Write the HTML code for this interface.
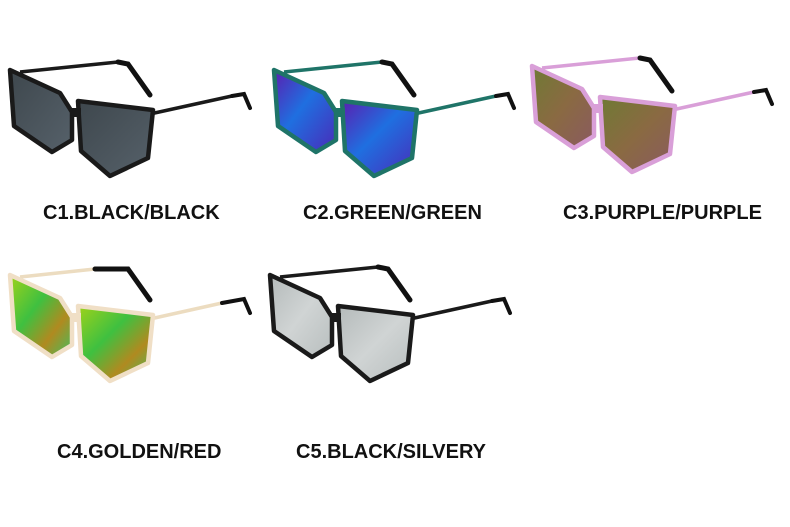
<!DOCTYPE html>
<html><head><style>
body{margin:0;background:#fff;width:790px;height:527px;overflow:hidden;position:relative;font-family:"Liberation Sans",sans-serif}
.t{position:absolute;font-weight:bold;font-size:20px;color:#111;white-space:nowrap}
</style></head><body>
<svg width="790" height="527" style="position:absolute;left:0;top:0">
<defs>
<linearGradient id="g1" x1="0" y1="0" x2="1" y2="1"><stop offset="0" stop-color="#3e474d"/><stop offset="1" stop-color="#56616a"/></linearGradient>
<linearGradient id="g2" x1="0" y1="0" x2="1" y2="1"><stop offset="0" stop-color="#5a1fb0"/><stop offset=".45" stop-color="#1f6fe0"/><stop offset="1" stop-color="#4a2ab8"/></linearGradient>
<linearGradient id="g3" x1="0" y1="0" x2="1" y2="1"><stop offset="0" stop-color="#6f7a34"/><stop offset=".5" stop-color="#8a6a42"/><stop offset="1" stop-color="#8a5a60"/></linearGradient>
<linearGradient id="g4" x1="0" y1="0" x2="1" y2="1"><stop offset="0" stop-color="#9fd21a"/><stop offset=".4" stop-color="#3fc040"/><stop offset=".7" stop-color="#b08a20"/><stop offset="1" stop-color="#3fc060"/></linearGradient>
<linearGradient id="g5" x1="0" y1="0" x2="1" y2="1"><stop offset="0" stop-color="#b4baba"/><stop offset=".5" stop-color="#d0d4d4"/><stop offset="1" stop-color="#b8bebe"/></linearGradient>
</defs>
<g transform="translate(0,0)">
 <polyline points="20,72 118,62" stroke="#1a1a1a" stroke-width="3.5" fill="none"/><polyline points="118,62 128,64 150,95" stroke="#111" stroke-width="5" fill="none" stroke-linecap="round"/>
 <polyline points="150,114 232,96" stroke="#1a1a1a" stroke-width="3.5" fill="none"/><polyline points="232,96 244,94 250,108" stroke="#111" stroke-width="4" fill="none" stroke-linecap="round"/>
 <polygon points="10,70 60,93 72,112 72,140 52,152 14,126" fill="url(#g1)" stroke="#1a1a1a" stroke-width="4.5" stroke-linejoin="round"/>
 <polygon points="78,101 153,110 148,158 110,176 81,151 79,118" fill="url(#g1)" stroke="#1a1a1a" stroke-width="4.5" stroke-linejoin="round"/>
 <rect x="70" y="108" width="11" height="9" fill="#1a1a1a"/>
</g>
<g transform="translate(264,0)">
 <polyline points="20,72 118,62" stroke="#1f7468" stroke-width="3.5" fill="none"/><polyline points="118,62 128,64 150,95" stroke="#111" stroke-width="5" fill="none" stroke-linecap="round"/>
 <polyline points="150,114 232,96" stroke="#1f7468" stroke-width="3.5" fill="none"/><polyline points="232,96 244,94 250,108" stroke="#111" stroke-width="4" fill="none" stroke-linecap="round"/>
 <polygon points="10,70 60,93 72,112 72,140 52,152 14,126" fill="url(#g2)" stroke="#1f7468" stroke-width="4.5" stroke-linejoin="round"/>
 <polygon points="78,101 153,110 148,158 110,176 81,151 79,118" fill="url(#g2)" stroke="#1f7468" stroke-width="4.5" stroke-linejoin="round"/>
 <rect x="70" y="108" width="11" height="9" fill="#1f7468"/>
</g>
<g transform="translate(522,-4)">
 <polyline points="20,72 118,62" stroke="#d99fd8" stroke-width="3.5" fill="none"/><polyline points="118,62 128,64 150,95" stroke="#111" stroke-width="5" fill="none" stroke-linecap="round"/>
 <polyline points="150,114 232,96" stroke="#d99fd8" stroke-width="3.5" fill="none"/><polyline points="232,96 244,94 250,108" stroke="#111" stroke-width="4" fill="none" stroke-linecap="round"/>
 <polygon points="10,70 60,93 72,112 72,140 52,152 14,126" fill="url(#g3)" stroke="#d99fd8" stroke-width="4.5" stroke-linejoin="round"/>
 <polygon points="78,101 153,110 148,158 110,176 81,151 79,118" fill="url(#g3)" stroke="#d99fd8" stroke-width="4.5" stroke-linejoin="round"/>
 <rect x="70" y="108" width="11" height="9" fill="#d99fd8"/>
</g>
<g transform="translate(0,205)">
 <polyline points="20,72 95,64" stroke="#ecdcc0" stroke-width="3.5" fill="none"/><polyline points="95,64 128,64 150,95" stroke="#111" stroke-width="5" fill="none" stroke-linecap="round"/>
 <polyline points="150,114 222,98" stroke="#ecdcc0" stroke-width="3.5" fill="none"/><polyline points="222,98 244,94 250,108" stroke="#111" stroke-width="4" fill="none" stroke-linecap="round"/>
 <polygon points="10,70 60,93 72,112 72,140 52,152 14,126" fill="url(#g4)" stroke="#f0dfc6" stroke-width="4.5" stroke-linejoin="round"/>
 <polygon points="78,101 153,110 148,158 110,176 81,151 79,118" fill="url(#g4)" stroke="#f0dfc6" stroke-width="4.5" stroke-linejoin="round"/>
 <rect x="70" y="108" width="11" height="9" fill="#f0dfc6"/>
</g>
<g transform="translate(260,205)">
 <polyline points="20,72 118,62" stroke="#1a1a1a" stroke-width="3.5" fill="none"/><polyline points="118,62 128,64 150,95" stroke="#111" stroke-width="5" fill="none" stroke-linecap="round"/>
 <polyline points="150,114 232,96" stroke="#1a1a1a" stroke-width="3.5" fill="none"/><polyline points="232,96 244,94 250,108" stroke="#111" stroke-width="4" fill="none" stroke-linecap="round"/>
 <polygon points="10,70 60,93 72,112 72,140 52,152 14,126" fill="url(#g5)" stroke="#1a1a1a" stroke-width="4.5" stroke-linejoin="round"/>
 <polygon points="78,101 153,110 148,158 110,176 81,151 79,118" fill="url(#g5)" stroke="#1a1a1a" stroke-width="4.5" stroke-linejoin="round"/>
 <rect x="70" y="108" width="11" height="9" fill="#1a1a1a"/>
</g>
</svg>
<div class="t" style="left:43px;top:202px">C1.BLACK/BLACK</div>
<div class="t" style="left:303px;top:202px">C2.GREEN/GREEN</div>
<div class="t" style="left:563px;top:202px">C3.PURPLE/PURPLE</div>
<div class="t" style="left:57px;top:441px">C4.GOLDEN/RED</div>
<div class="t" style="left:296px;top:441px">C5.BLACK/SILVERY</div>
</body></html>
